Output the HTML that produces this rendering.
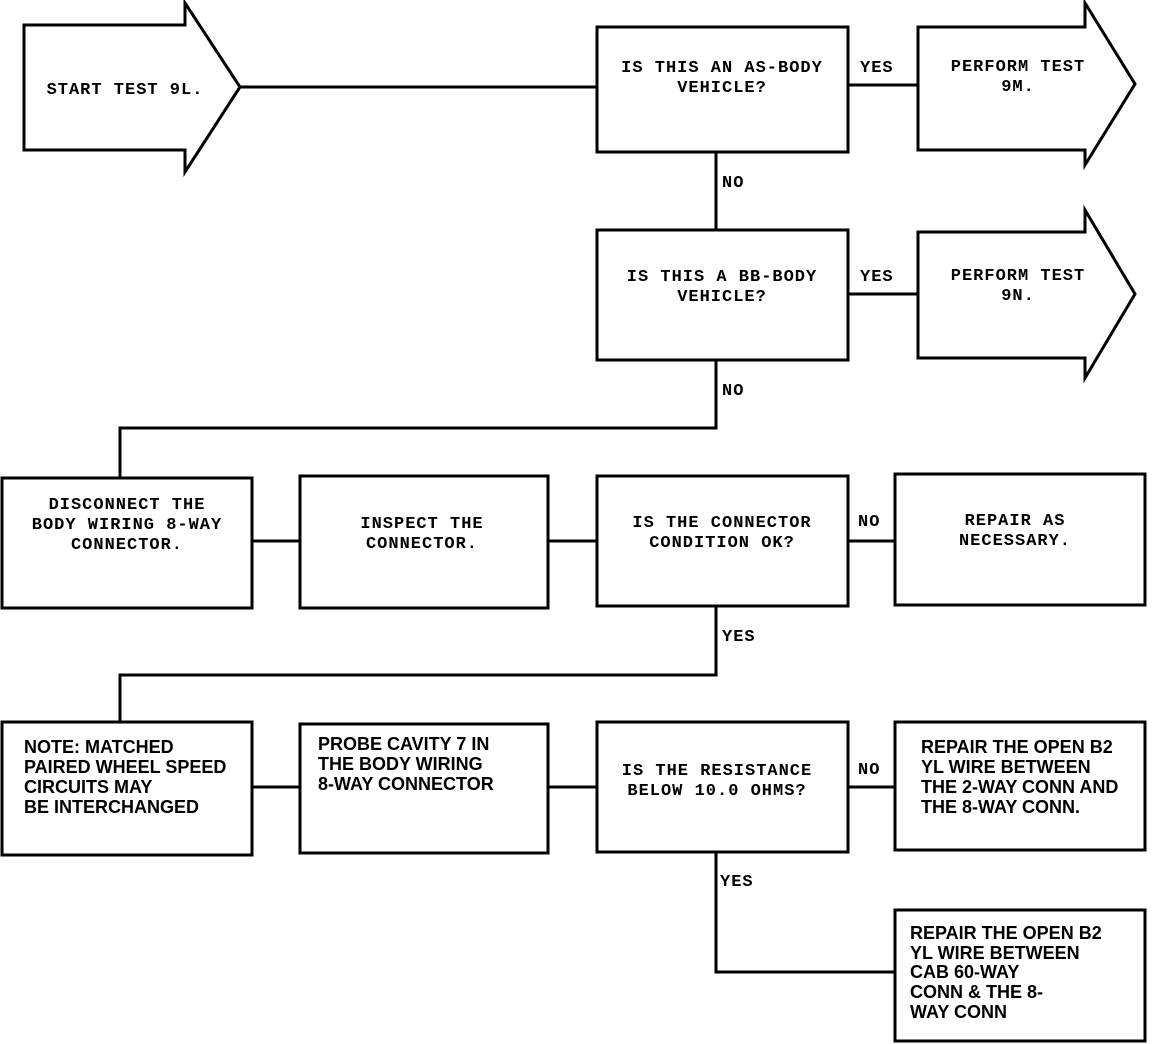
<!DOCTYPE html>
<html><head><meta charset="utf-8"><style>
html,body{margin:0;padding:0;background:#fff}
svg{display:block}
.m{font-family:"Liberation Mono",monospace;font-size:17px;font-weight:bold;letter-spacing:1px}
.b{font-family:"Liberation Sans",sans-serif;font-size:18px;font-weight:bold}
</style></head><body>
<svg width="1152" height="1044" viewBox="0 0 1152 1044" xmlns="http://www.w3.org/2000/svg">
<g fill="none" stroke="#000" stroke-width="3">
<path d="M24 25 H185 V3 L240 87 L185 172 V150 H24 Z"/>
<path d="M918 27 H1085 V3 L1135 84 L1085 165 V150 H918 Z"/>
<path d="M918 232 H1085 V210 L1135 294 L1085 378 V358 H918 Z"/>
<rect x="597" y="27" width="251" height="125"/>
<rect x="597" y="230" width="251" height="130"/>
<rect x="2" y="478" width="250" height="130"/>
<rect x="300" y="476" width="248" height="132"/>
<rect x="597" y="476" width="251" height="130"/>
<rect x="895" y="474" width="250" height="131"/>
<rect x="2" y="722" width="250" height="133"/>
<rect x="300" y="724" width="248" height="129"/>
<rect x="597" y="722" width="251" height="130"/>
<rect x="895" y="722" width="250" height="128"/>
<rect x="895" y="910" width="250" height="131"/>
<path d="M240 87 H597 M848 85 H918 M716 152 V230 M848 294 H918"/>
<path d="M716 360 V428 H120 V478"/>
<path d="M252 541 H300 M548 541 H597 M848 541 H895"/>
<path d="M716 606 V675 H120 V722"/>
<path d="M252 787 H300 M548 787 H597 M848 787 H895"/>
<path d="M716 852 V972 H895"/>
</g>
<g class="m" text-anchor="middle">
<text x="125" y="94">START TEST 9L.</text>
<text x="722" y="72">IS THIS AN AS-BODY</text>
<text x="722" y="92">VEHICLE?</text>
<text x="1018" y="71">PERFORM TEST</text>
<text x="1018" y="91">9M.</text>
<text x="722" y="281">IS THIS A BB-BODY</text>
<text x="722" y="301">VEHICLE?</text>
<text x="1018" y="280">PERFORM TEST</text>
<text x="1018" y="300">9N.</text>
<text x="127" y="509">DISCONNECT THE</text>
<text x="127" y="529">BODY WIRING 8-WAY</text>
<text x="127" y="549">CONNECTOR.</text>
<text x="422" y="528">INSPECT THE</text>
<text x="422" y="548">CONNECTOR.</text>
<text x="722" y="527">IS THE CONNECTOR</text>
<text x="722" y="547">CONDITION OK?</text>
<text x="1015" y="525">REPAIR AS</text>
<text x="1015" y="545">NECESSARY.</text>
<text x="717" y="775">IS THE RESISTANCE</text>
<text x="717" y="795">BELOW 10.0 OHMS?</text>
</g>
<g class="m">
<text x="860" y="72">YES</text>
<text x="722" y="187">NO</text>
<text x="860" y="281">YES</text>
<text x="722" y="395">NO</text>
<text x="858" y="526">NO</text>
<text x="722" y="641">YES</text>
<text x="858" y="774">NO</text>
<text x="720" y="886">YES</text>
</g>
<g class="b">
<text x="24" y="753">NOTE: MATCHED</text>
<text x="24" y="773">PAIRED WHEEL SPEED</text>
<text x="24" y="793">CIRCUITS MAY</text>
<text x="24" y="813">BE INTERCHANGED</text>
<text x="318" y="750">PROBE CAVITY 7 IN</text>
<text x="318" y="770">THE BODY WIRING</text>
<text x="318" y="790">8-WAY CONNECTOR</text>
<text x="921" y="753">REPAIR THE OPEN B2</text>
<text x="921" y="773">YL WIRE BETWEEN</text>
<text x="921" y="793">THE 2-WAY CONN AND</text>
<text x="921" y="813">THE 8-WAY CONN.</text>
<text x="910" y="939">REPAIR THE OPEN B2</text>
<text x="910" y="959">YL WIRE BETWEEN</text>
<text x="910" y="978">CAB 60-WAY</text>
<text x="910" y="998">CONN &amp; THE 8-</text>
<text x="910" y="1018">WAY CONN</text>
</g>
</svg>
</body></html>
